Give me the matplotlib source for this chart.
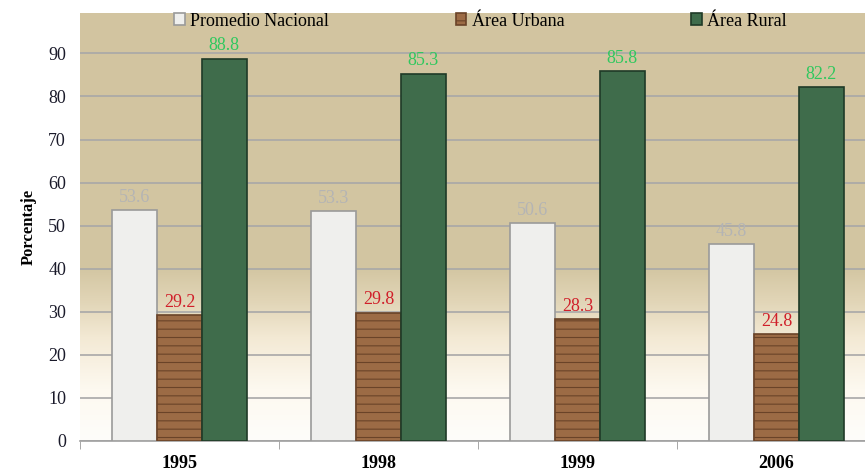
import numpy as np
import matplotlib.pyplot as plt

# data
years = ['1995', '1998', '1999', '2006']
nacional = [53.6, 53.3, 50.6, 45.8]
urbana = [29.2, 29.8, 28.3, 24.8]
rural = [88.8, 85.3, 85.8, 82.2]
series_names = ['Promedio Nacional', 'Área Urbana', 'Área Rural']

plt.rcParams['font.family'] = ['Liberation Serif', 'DejaVu Serif']
plt.rcParams['hatch.linewidth'] = 0.8

fig = plt.figure(figsize=(8.65, 4.73), dpi=100)
ax = fig.add_axes([0.0925, 0.0677, 0.9075, 0.905])

ymax = 99.4
x0, x1 = -0.5, 3.445

# background gradient: tan at top fading to white at bottom
yy = np.linspace(0, ymax, 400)
stops_y = [0, 12, 24, 32, 40, ymax]
stops_c = [np.array(c) / 255 for c in [(254, 253, 250), (253, 249, 240), (243, 233, 212), (226, 214, 184), (211, 198, 162), (210, 196, 160)]]
grad = np.zeros((400, 1, 3))
for k in range(3):
    grad[:, 0, k] = np.interp(yy, stops_y, [c[k] for c in stops_c])
ax.imshow(grad[::-1], extent=[x0, x1, 0, ymax], aspect='auto', zorder=0)

x = np.arange(len(years))
w = 0.225
styles = [
    dict(color='#efefed', edgecolor='#9a9a9a', label_color='#b4b4b4', hatch=None),
    dict(color='#9c6b45', edgecolor='#6a4328', label_color='#d01f2a', hatch='--'),
    dict(color='#3f6c4b', edgecolor='#1f3a27', label_color='#2fc85e', hatch=None),
]
for i, (vals, st) in enumerate(zip([nacional, urbana, rural], styles)):
    pos = x + (i - 1) * w
    bars = ax.bar(pos, vals, w, color=st['color'], edgecolor=st['edgecolor'],
                  linewidth=1.2, hatch=st['hatch'], zorder=3, label=series_names[i])
    for b, v in zip(bars, vals):
        ax.annotate(f'{v:.1f}', (b.get_x() + b.get_width() / 2, v), xytext=(0, 3),
                    textcoords='offset points', ha='center', va='bottom',
                    fontsize=13, color=st['label_color'], zorder=4)

ax.set_xlim(x0, x1)
ax.set_ylim(0, ymax)
ax.set_yticks(range(0, 100, 10))
ax.yaxis.grid(True, color='#a8a8a8', linewidth=1.2, zorder=1)
ax.set_axisbelow(True)
ax.tick_params(axis='y', length=0, labelsize=13, pad=10, labelcolor='#1a1a2a')

ax.set_xticks(x)
ax.set_xticklabels(years, fontsize=13, fontweight='bold')
ax.set_xticks(np.arange(-0.5, 3.5, 1), minor=True)
ax.tick_params(axis='x', which='major', length=0, pad=10)
ax.tick_params(axis='x', which='minor', length=6, color='#999999', direction='out')
for s in ['top', 'right', 'left']:
    ax.spines[s].set_visible(False)
ax.spines['bottom'].set_color('#a0a0a0')
ax.spines['bottom'].set_linewidth(1.2)

ax.set_ylabel('Porcentaje', fontsize=12, fontweight='bold', labelpad=8)

leg = ax.legend(loc='upper center', bbox_to_anchor=(0.51, 1.005), ncol=3, frameon=False,
                fontsize=13, handlelength=0.6, handleheight=0.6, handletextpad=0.3,
                columnspacing=7.0, borderaxespad=0, borderpad=0.1)

fig.savefig('out.png', dpi=100)
